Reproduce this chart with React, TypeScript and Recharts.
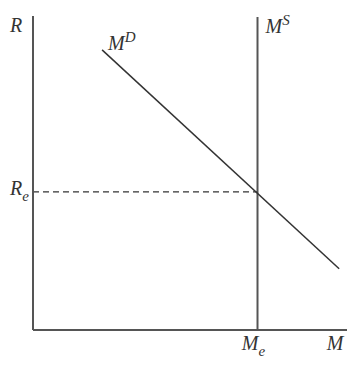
import React from "react";
import { ComposedChart, Line, XAxis, YAxis, ReferenceLine } from "recharts";

// Equilibrium values (axis units 0..100)
const M_E = 71.5;
const R_E = 44;

// Money demand curve end points
const demandPoints = [
  { x: 22, y: 89.2 },
  { x: 97.5, y: 19.5 },
];

// Money supply (vertical) end points
const supplyPoints = [
  { x: M_E, y: 0 },
  { x: M_E, y: 99.7 },
];

const xTicks = [M_E, 100];
const xTickLabels = [["M", "e"], ["M", ""]];
const yTicks = [R_E, 97];
const yTickLabels = [["R", "e"], ["R", ""]];

const FONT = "'Liberation Serif', 'DejaVu Serif', serif";
const TEXT = "#333";

const XTick = (props: any) => {
  const { x, y, index } = props;
  const [main, sub] = xTickLabels[index];
  const dx = index === 0 ? -4 : -12;
  return (
    <text x={x + dx} y={y + 20} fontFamily={FONT} fontStyle="italic" fontSize={20} fill={TEXT} textAnchor="middle">
      <tspan>{main}</tspan>
      {sub ? <tspan fontSize={15} dy={6}>{sub}</tspan> : null}
    </text>
  );
};

const YTick = (props: any) => {
  const { x, y, index } = props;
  const [main, sub] = yTickLabels[index];
  const dy = index === 0 ? 3 : 7;
  return (
    <text x={x - 23} y={y + dy} fontFamily={FONT} fontStyle="italic" fontSize={20} fill={TEXT} textAnchor="start">
      <tspan>{main}</tspan>
      {sub ? <tspan fontSize={15} dy={6}>{sub}</tspan> : null}
    </text>
  );
};

const CurveLabel = (props: any) => {
  const { viewBox, main, sup, dx, dy } = props;
  const x = viewBox ? viewBox.x : 0;
  const y = viewBox ? viewBox.y : 0;
  return (
    <text x={x + dx} y={y + dy} fontFamily={FONT} fontStyle="italic" fontSize={20} fill={TEXT}>
      <tspan>{main}</tspan>
      <tspan fontSize={15} dy={-8}>{sup}</tspan>
    </text>
  );
};

export default function App() {
  return (
    <div style={{ position: "absolute", left: 0, top: 0, background: "#fff" }}>
      <ComposedChart
        width={364}
        height={366}
        margin={{ top: 16, right: 17, bottom: 0, left: 0 }}
      >
        <XAxis
          type="number"
          dataKey="x"
          domain={[0, 100]}
          ticks={xTicks}
          tick={<XTick />}
          tickLine={false}
          tickSize={0}
          tickMargin={0}
          axisLine={{ stroke: "#555", strokeWidth: 2 }}
          height={36}
          allowDataOverflow
        />
        <YAxis
          type="number"
          dataKey="y"
          domain={[0, 100]}
          ticks={yTicks}
          tick={<YTick />}
          tickLine={false}
          tickSize={0}
          tickMargin={0}
          axisLine={{ stroke: "#555", strokeWidth: 2 }}
          width={33}
          allowDataOverflow
        />
        <ReferenceLine
          segment={[{ x: 0, y: R_E }, { x: M_E, y: R_E }]}
          stroke="#333"
          strokeWidth={1.3}
          strokeDasharray="6 4"
        />
        <Line
          data={supplyPoints}
          dataKey="y"
          type="linear"
          stroke="#555"
          strokeWidth={2}
          dot={false}
          isAnimationActive={false}
          label={(p: any) =>
            p.index === 1 ? (
              <CurveLabel key="ms" viewBox={{ x: p.x, y: p.y }} main="M" sup="S" dx={8} dy={16} />
            ) : null
          }
        />
        <Line
          data={demandPoints}
          dataKey="y"
          type="linear"
          stroke="#333"
          strokeWidth={1.5}
          dot={false}
          isAnimationActive={false}
          label={(p: any) =>
            p.index === 0 ? (
              <CurveLabel key="md" viewBox={{ x: p.x, y: p.y }} main="M" sup="D" dx={6} dy={0} />
            ) : null
          }
        />
      </ComposedChart>
    </div>
  );
}
